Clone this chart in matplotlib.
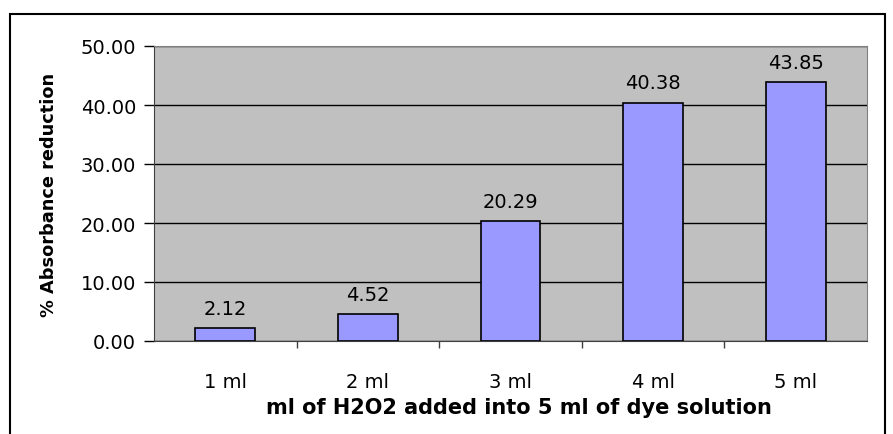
import matplotlib.pyplot as plt
from matplotlib.patches import Rectangle

categories = ["1 ml", "2 ml", "3 ml", "4 ml", "5 ml"]
values = [2.12, 4.52, 20.29, 40.38, 43.85]
yticks = [0, 10, 20, 30, 40, 50]

plt.rcParams["font.family"] = ["DejaVu Sans"]

fig = plt.figure(figsize=(8.93, 4.35), dpi=100)
ax = fig.add_axes([154 / 893, 1 - 342 / 435, (867 - 154) / 893, (342 - 47) / 435])

# outer chart border
fig.patches.append(Rectangle((10 / 893, -0.1), 875 / 893, 1.1 - 15 / 435,
                             transform=fig.transFigure, fill=False,
                             edgecolor="black", linewidth=1.5))

ax.set_facecolor("#c0c0c0")
x = range(len(categories))
ax.bar(x, values, width=0.42, color="#9999ff", edgecolor="black", linewidth=1.2, zorder=3)
for i, v in enumerate(values):
    ax.text(i, v + 1.8, f"{v:.2f}", ha="center", va="bottom", fontsize=14)

ax.set_xlim(-0.5, len(categories) - 0.5)
ax.set_ylim(0, 50)
ax.set_yticks(yticks)
ax.set_yticklabels([f"{t:.2f}" for t in yticks], fontsize=14)
ax.set_xticks(list(x))
ax.set_xticklabels(categories, fontsize=14)
ax.set_xticks([i + 0.5 for i in range(len(categories) - 1)], minor=True)
ax.tick_params(axis="x", which="major", length=0, pad=22)
ax.tick_params(axis="x", which="minor", length=5, width=1, color="#404040")
ax.tick_params(axis="y", length=7, width=1, pad=6)
ax.yaxis.grid(True, color="black", linewidth=1, zorder=1)
ax.set_axisbelow(True)

for s in ["top", "right"]:
    ax.spines[s].set_color("#808080")
ax.spines["left"].set_color("#404040")
ax.spines["bottom"].set_color("#404040")

ax.set_ylabel("% Absorbance reduction", fontsize=12.8, fontweight="bold", labelpad=16)
ax.set_xlabel("ml of H2O2 added into 5 ml of dye solution", fontsize=15,
              fontweight="bold")
ax.xaxis.set_label_coords(0.512, -0.19)

fig.savefig("out.png", dpi=100)
